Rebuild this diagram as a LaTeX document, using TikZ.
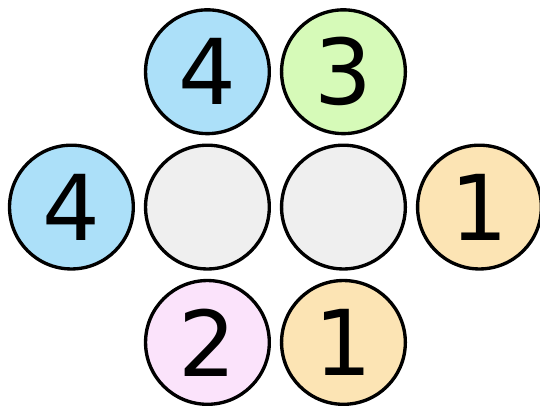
\documentclass[tikz,border=0pt]{standalone}
\usepackage{fontspec}
\setmainfont{DejaVu Sans}
\usepackage{tikz}
\definecolor{bleuPion}{RGB}{172,224,249}
\definecolor{vertPion}{RGB}{214,250,184}
\definecolor{grisPion}{RGB}{239,239,239}
\definecolor{rosePion}{RGB}{251,227,251}
\definecolor{orangePion}{RGB}{252,228,180}

\begin{document}
\begin{tikzpicture}[font=\fontsize{38}{42}\selectfont,
  pion/.style={circle,minimum size=1.82cm,inner sep=0pt,draw=black,line width=1.4pt}]
  \useasboundingbox (0,0) rectangle (7.94,5.985);

  \node[pion,fill=bleuPion]   (haut1) at (3.05,4.93) {4};
  \node[pion,fill=vertPion]   (haut2) at (5.05,4.93) {3};

  \node[pion,fill=bleuPion]   (milieu1) at (1.05,2.94) {4};
  \node[pion,fill=grisPion]   (milieu2) at (3.05,2.94) {};
  \node[pion,fill=grisPion]   (milieu3) at (5.05,2.94) {};
  \node[pion,fill=orangePion] (milieu4) at (7.05,2.94) {1};

  \node[pion,fill=rosePion]   (bas1) at (3.05,0.95) {2};
  \node[pion,fill=orangePion] (bas2) at (5.05,0.95) {1};
\end{tikzpicture}
\end{document}
